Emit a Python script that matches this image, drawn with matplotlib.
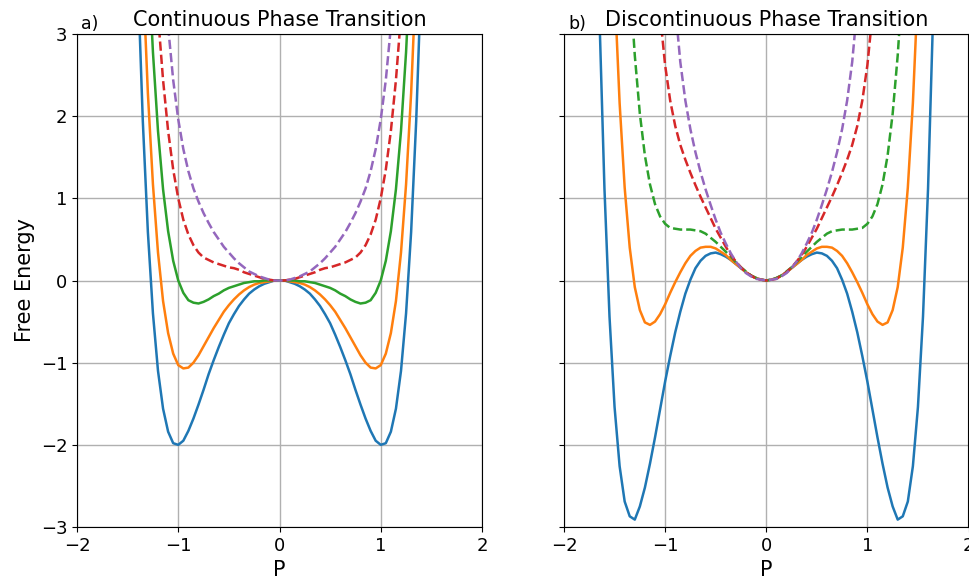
import matplotlib.pyplot as plt
import numpy as np

# polarisation grid of each panel
P_A = [-1.40, -1.35, -1.30, -1.25, -1.20, -1.15, -1.10, -1.05, -1.00, -0.95,
       -0.90, -0.85, -0.80, -0.75, -0.70, -0.65, -0.60, -0.55, -0.50, -0.45,
       -0.40, -0.35, -0.30, -0.25, -0.20, -0.15, -0.10, -0.05, 0.00,
       0.05, 0.10, 0.15, 0.20, 0.25, 0.30, 0.35, 0.40, 0.45, 0.50,
       0.55, 0.60, 0.65, 0.70, 0.75, 0.80, 0.85, 0.90, 0.95, 1.00,
       1.05, 1.10, 1.15, 1.20, 1.25, 1.30, 1.35, 1.40]
P_B = [-1.65, -1.60, -1.55, -1.50, -1.45, -1.40, -1.35, -1.30, -1.25, -1.20,
       -1.15, -1.10, -1.05, -1.00, -0.95, -0.90, -0.85, -0.80, -0.75, -0.70,
       -0.65, -0.60, -0.55, -0.50, -0.45, -0.40, -0.35, -0.30, -0.25, -0.20,
       -0.15, -0.10, -0.05, 0.00,
       0.05, 0.10, 0.15, 0.20, 0.25, 0.30, 0.35, 0.40, 0.45, 0.50,
       0.55, 0.60, 0.65, 0.70, 0.75, 0.80, 0.85, 0.90, 0.95, 1.00,
       1.05, 1.10, 1.15, 1.20, 1.25, 1.30, 1.35, 1.40, 1.45, 1.50,
       1.55, 1.60, 1.65]

# a) continuous transition (None = above the frame)
A_BLUE = [3.71, 1.94, 0.59, -0.40, -1.10, -1.56, -1.84, -1.98, -2.00, -1.95,
          -1.83, -1.68, -1.51, -1.33, -1.14, -0.97, -0.81, -0.66, -0.52, -0.41,
          -0.31, -0.23, -0.16, -0.11, -0.07, -0.04, -0.02, 0.00, 0.00,
          0.00, -0.02, -0.04, -0.07, -0.11, -0.16, -0.23, -0.31, -0.41, -0.52,
          -0.66, -0.81, -0.97, -1.14, -1.33, -1.51, -1.68, -1.83, -1.95, -2.00,
          -1.98, -1.84, -1.56, -1.10, -0.40, 0.59, 1.94, 3.71]
A_ORANGE = [None, 3.75, 2.28, 1.17, 0.34, -0.25, -0.64, -0.89, -1.03, -1.07,
            -1.06, -1.00, -0.91, -0.80, -0.69, -0.58, -0.48, -0.38, -0.30, -0.23,
            -0.17, -0.12, -0.08, -0.05, -0.03, -0.02, -0.01, 0.00, 0.00,
            0.00, -0.01, -0.02, -0.03, -0.05, -0.08, -0.12, -0.17, -0.23, -0.30,
            -0.38, -0.48, -0.58, -0.69, -0.80, -0.91, -1.00, -1.06, -1.07, -1.03,
            -0.89, -0.64, -0.25, 0.34, 1.17, 2.28, 3.75, None]
A_GREEN = [None, None, 4.04, 2.78, 1.82, 1.11, 0.60, 0.24, 0.00, -0.15,
           -0.24, -0.27, -0.28, -0.26, -0.23, -0.19, -0.16, -0.12, -0.09, -0.07,
           -0.05, -0.03, -0.02, -0.01, -0.01, 0.00, 0.00, 0.00, 0.00,
           0.00, 0.00, 0.00, -0.01, -0.01, -0.02, -0.03, -0.05, -0.07, -0.09,
           -0.12, -0.16, -0.19, -0.23, -0.26, -0.28, -0.27, -0.24, -0.15, 0.00,
           0.24, 0.60, 1.11, 1.82, 2.78, 4.04, None, None]
A_RED = [None, None, None, None, 3.23, 2.44, 1.82, 1.35, 1.00, 0.74,
         0.56, 0.43, 0.34, 0.28, 0.25, 0.22, 0.20, 0.18, 0.16, 0.15,
         0.13, 0.10, 0.08, 0.06, 0.04, 0.02, 0.01, 0.00, 0.00,
         0.00, 0.01, 0.02, 0.04, 0.06, 0.08, 0.10, 0.13, 0.15, 0.16,
         0.18, 0.20, 0.22, 0.25, 0.28, 0.34, 0.43, 0.56, 0.74, 1.00,
         1.35, 1.82, 2.44, 3.23, None, None, None, None]
A_PURPLE = [None, None, None, None, None, None, 3.09, 2.44, 1.96, 1.60,
            1.33, 1.12, 0.96, 0.82, 0.70, 0.59, 0.50, 0.41, 0.34, 0.27,
            0.21, 0.16, 0.11, 0.08, 0.05, 0.03, 0.01, 0.00, 0.00,
            0.00, 0.01, 0.03, 0.05, 0.08, 0.11, 0.16, 0.21, 0.27, 0.34,
            0.41, 0.50, 0.59, 0.70, 0.82, 0.96, 1.12, 1.33, 1.60, 1.96,
            2.44, 3.09, None, None, None, None, None, None]

# b) discontinuous transition
B_BLUE = [3.23, 1.12, -0.44, -1.54, -2.26, -2.69, -2.87, -2.91, -2.75, -2.52,
          -2.23, -1.91, -1.57, -1.23, -0.92, -0.63, -0.38, -0.16, 0.01, 0.15,
          0.24, 0.30, 0.33, 0.34, 0.32, 0.29, 0.25, 0.20, 0.15, 0.10,
          0.06, 0.03, 0.01, 0.00,
          0.01, 0.03, 0.06, 0.10, 0.15, 0.20, 0.25, 0.29, 0.32, 0.34,
          0.33, 0.30, 0.24, 0.15, 0.01, -0.16, -0.38, -0.63, -0.92, -1.23,
          -1.57, -1.91, -2.23, -2.52, -2.75, -2.91, -2.87, -2.69, -2.26, -1.54,
          -0.44, 1.12, 3.23]
B_ORANGE = [None, None, None, 3.56, 2.16, 1.13, 0.40, -0.08, -0.36, -0.51,
            -0.54, -0.50, -0.41, -0.29, -0.15, -0.02, 0.10, 0.21, 0.30, 0.36,
            0.40, 0.41, 0.41, 0.39, 0.35, 0.31, 0.25, 0.20, 0.15, 0.10,
            0.06, 0.03, 0.01, 0.00,
            0.01, 0.03, 0.06, 0.10, 0.15, 0.20, 0.25, 0.31, 0.35, 0.39,
            0.41, 0.41, 0.40, 0.36, 0.30, 0.21, 0.10, -0.02, -0.15, -0.29,
            -0.41, -0.50, -0.54, -0.51, -0.36, -0.08, 0.40, 1.13, 2.16, 3.56,
            None, None, None]
B_GREEN = [None, None, None, None, None, None, 3.68, 2.74, 2.03, 1.52,
           1.17, 0.93, 0.78, 0.69, 0.64, 0.63, 0.62, 0.62, 0.62, 0.61,
           0.60, 0.57, 0.52, 0.47, 0.41, 0.35, 0.29, 0.22, 0.16, 0.11,
           0.06, 0.03, 0.01, 0.00,
           0.01, 0.03, 0.06, 0.11, 0.16, 0.22, 0.29, 0.35, 0.41, 0.47,
           0.52, 0.57, 0.60, 0.61, 0.62, 0.62, 0.62, 0.63, 0.64, 0.69,
           0.78, 0.93, 1.17, 1.52, 2.03, 2.74, 3.68, None, None, None,
           None, None, None]
B_RED = [None, None, None, None, None, None, None, None, None, None,
         None, None, 3.24, 2.62, 2.19, 1.88, 1.65, 1.47, 1.31, 1.16,
         1.02, 0.89, 0.76, 0.63, 0.52, 0.41, 0.31, 0.23, 0.16, 0.10,
         0.06, 0.02, 0.01, 0.00,
         0.01, 0.02, 0.06, 0.10, 0.16, 0.23, 0.31, 0.41, 0.52, 0.63,
         0.76, 0.89, 1.02, 1.16, 1.31, 1.47, 1.65, 1.88, 2.19, 2.62,
         3.24, None, None, None, None, None, None, None, None, None,
         None, None, None]
B_PURPLE = [None, None, None, None, None, None, None, None, None, None,
            None, None, None, None, None, 3.34, 2.66, 2.19, 1.84, 1.56,
            1.32, 1.11, 0.92, 0.74, 0.58, 0.45, 0.33, 0.23, 0.15, 0.09,
            0.05, 0.02, 0.01, 0.00,
            0.01, 0.02, 0.05, 0.09, 0.15, 0.23, 0.33, 0.45, 0.58, 0.74,
            0.92, 1.11, 1.32, 1.56, 1.84, 2.19, 2.66, 3.34, None, None,
            None, None, None, None, None, None, None, None, None, None,
            None, None, None]

fig = plt.figure(figsize=(9.69, 5.81), dpi=100)
ax1 = fig.add_axes([77 / 969, 54 / 581, 405 / 969, 493 / 581])
ax2 = fig.add_axes([564 / 969, 54 / 581, 404.5 / 969, 493 / 581], sharey=ax1)

lw = 1.8
ax1.plot(P_A, np.array(A_BLUE, dtype=float), color='C0', lw=lw)
ax1.plot(P_A, np.array(A_ORANGE, dtype=float), color='C1', lw=lw)
ax1.plot(P_A, np.array(A_GREEN, dtype=float), color='C2', lw=lw)
ax1.plot(P_A, np.array(A_RED, dtype=float), color='C3', lw=lw, ls='--')
ax1.plot(P_A, np.array(A_PURPLE, dtype=float), color='C4', lw=lw, ls='--')

ax2.plot(P_B, np.array(B_BLUE, dtype=float), color='C0', lw=lw)
ax2.plot(P_B, np.array(B_ORANGE, dtype=float), color='C1', lw=lw)
ax2.plot(P_B, np.array(B_GREEN, dtype=float), color='C2', lw=lw, ls='--')
ax2.plot(P_B, np.array(B_RED, dtype=float), color='C3', lw=lw, ls='--')
ax2.plot(P_B, np.array(B_PURPLE, dtype=float), color='C4', lw=lw, ls='--')

for ax in (ax1, ax2):
    ax.set_xlim(-2, 2)
    ax.set_ylim(-3, 3)
    ax.set_xticks([-2, -1, 0, 1, 2])
    ax.grid(lw=1.0)
    ax.tick_params(labelsize=13)
    ax.set_xlabel('P', fontsize=15)
ax2.tick_params(labelleft=False)
ax1.set_ylabel('Free Energy', fontsize=15)
ax1.set_title('Continuous Phase Transition', fontsize=15)
ax2.set_title('Discontinuous Phase Transition', fontsize=15)
ax1.text(0.01, 1.01, 'a)', transform=ax1.transAxes, fontsize=12.5)
ax2.text(0.01, 1.01, 'b)', transform=ax2.transAxes, fontsize=12.5)

fig.savefig('out.png', dpi=100)
